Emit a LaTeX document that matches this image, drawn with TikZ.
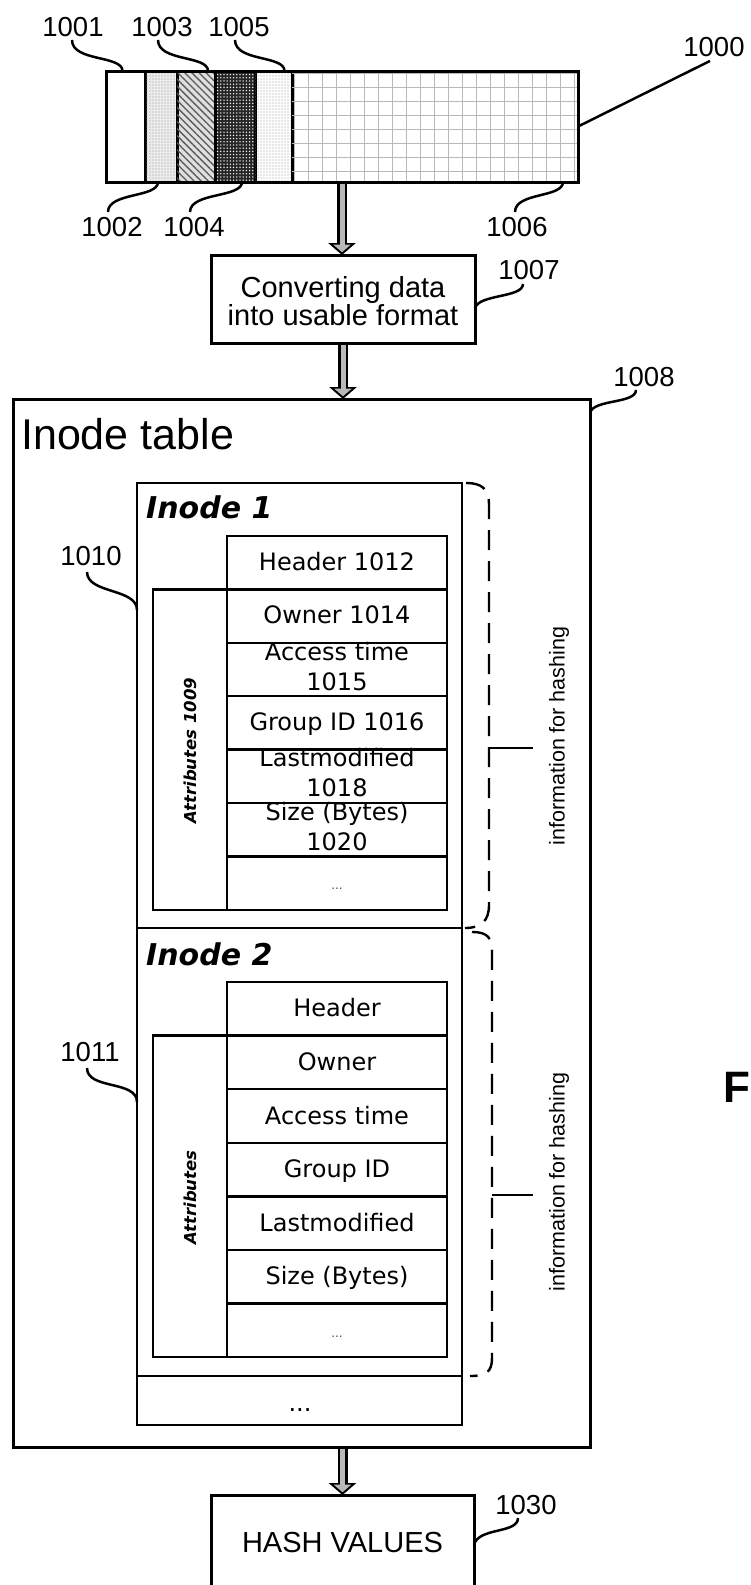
\documentclass[tikz,border=0pt]{standalone}
\usepackage{fontspec}
\setmainfont{Liberation Sans}
\newfontfamily\vfont{DejaVu Sans}
\usetikzlibrary{arrows.meta,patterns.meta,calc}
\newcommand{\pbox}[6]{\node[boxs,#6,minimum width=#4pt,minimum height=#5pt,anchor=north west] (#1) at (#2,#3) {};}
\begin{document}
\begin{tikzpicture}[x=1pt,y=-1pt,
  boxs/.style={draw, inner sep=0pt, outer sep=0pt},
  thickbox/.style={line width=3pt},
  medbox/.style={line width=2.2pt},
  cellbox/.style={line width=2.5pt},
  lbl/.style={inner sep=0pt, font=\fontsize{27.5}{27.5}\selectfont},
  leader/.style={line width=2.5pt},
  celltxt/.style={inner sep=0pt, anchor=base, font=\vfont\fontsize{24}{24}\selectfont},
  celldots/.style={inner sep=0pt, anchor=base, text=black!70, font=\vfont\fontsize{12}{12}\selectfont},
  inodetitle/.style={inner sep=0pt, anchor=base west, font=\vfont\bfseries\itshape\fontsize{30}{30}\selectfont},
  attrtxt/.style={inner sep=0pt, rotate=90, font=\vfont\bfseries\itshape\fontsize{16.5}{16.5}\selectfont},
  infotxt/.style={inner sep=0pt, rotate=90, font=\fontsize{21.5}{21.5}\selectfont},
  blkout/.style={line width=10pt, -{Triangle[width=27pt,length=12pt]}},
  blkin/.style={line width=5pt, draw=gray!55, -{Triangle[width=17pt,length=7.5pt]}, shorten >=2.8pt, shorten <=1.5pt},
  brace/.style={line width=2.4pt, dash pattern=on 20pt off 11pt},
]
\useasboundingbox (0,0) rectangle (750,1585);
\fill[white] (0,0) rectangle (750,1585);

% ---------- top record bar ----------
\pbox{s1}{106}{71}{39}{111}{thickbox, fill=white}
\pbox{s2}{145}{71}{32}{111}{thickbox, fill=gray!15, postaction={pattern={Dots[distance=3pt,radius=0.6pt]}, pattern color=gray!80}}
\pbox{s3}{177}{71}{38}{111}{thickbox, fill=gray!25, postaction={pattern={Lines[angle=-45,distance=5pt,line width=1.3pt]}, pattern color=black!65}}
\pbox{s4}{215}{71}{40}{111}{thickbox, fill=black!85, postaction={pattern={Dots[distance=3.2pt,radius=0.75pt]}, pattern color=white}}
\pbox{s5}{255}{71}{37}{111}{thickbox, fill=white, postaction={pattern={Dots[distance=3pt,radius=0.6pt]}, pattern color=gray!80}}
\pbox{s6}{292}{71}{286}{111}{thickbox, fill=white, postaction={pattern={Hatch[distance=14pt,line width=0.9pt]}, pattern color=gray!55}}
\pbox{bar}{106}{71}{472}{111}{thickbox}

\node[lbl] (l1000) at (714,47) {1000};
\node[lbl] (l1001) at (73,27) {1001};
\node[lbl] (l1003) at (162,27) {1003};
\node[lbl] (l1005) at (239,27) {1005};
\node[lbl] (l1002) at (112,227) {1002};
\node[lbl] (l1004) at (194,227) {1004};
\node[lbl] (l1006) at (517,227) {1006};

\draw[leader] (bar.east) -- ([xshift=-4pt,yshift=-4pt]l1000.south);
\draw[leader] ([xshift=-1pt,yshift=-3pt]l1001.south) .. controls +(0,22) and +(0,-16) .. ([xshift=-3pt]s1.north);
\draw[leader] ([xshift=-4pt,yshift=-3pt]l1003.south) .. controls +(0,22) and +(0,-16) .. ([xshift=12pt]s3.north);
\draw[leader] ([xshift=-4pt,yshift=-3pt]l1005.south) .. controls +(0,22) and +(0,-16) .. ([xshift=11pt]s5.north);
\draw[leader] ([xshift=-4pt,yshift=5pt]l1002.north) .. controls +(0,-20) and +(0,16) .. ([xshift=-3pt]s2.south);
\draw[leader] ([xshift=-4pt,yshift=5pt]l1004.north) .. controls +(0,-20) and +(0,16) .. ([xshift=7pt]s4.south);
\draw[leader] ([xshift=-2pt,yshift=5pt]l1006.north) .. controls +(0,-20) and +(0,16) .. ([xshift=-15pt]s6.south east);

% ---------- converting box ----------
\pbox{conv}{211}{255}{264}{88}{thickbox}
\node[inner sep=0pt, align=center, font=\fontsize{29}{28.7}\selectfont] (convtxt) at (343,301) {Converting data\\into usable format};
\node[lbl] (l1007) at (529,270) {1007};
\draw[leader] ([yshift=-9pt]conv.east) .. controls +(4,-14) and +(0,14) .. ([xshift=-6pt,yshift=-4pt]l1007.south);

% ---------- inode table ----------
\pbox{tbl}{13}{399}{577}{1048}{thickbox}
\node[inner sep=0pt, anchor=base west, font=\fontsize{43}{43}\selectfont] (tbltxt) at (21,449) {Inode table};
\node[lbl] (l1008) at (644,377) {1008};
\draw[leader] ([yshift=-14pt]tbl.north east) .. controls +(3,-14) and +(0,14) .. ([xshift=-8pt,yshift=-3pt]l1008.south);

\pbox{i1}{137}{483}{325}{445}{medbox}
\pbox{i2}{137}{928}{325}{448}{medbox}
\pbox{idots}{137}{1376}{325}{49}{medbox}
\node[inner sep=0pt, anchor=base, font=\vfont\fontsize{24}{24}\selectfont] (idotstxt) at (300,1411) {...};

\node[inodetitle] (i1t) at (146,518) {Inode 1};
\node[inodetitle] (i2t) at (146,965) {Inode 2};

% attributes columns
\pbox{a1}{153}{589.4}{74}{320.4}{cellbox}
\pbox{a2}{153}{1035.6}{74}{321.6}{cellbox}
\node[attrtxt] (a1t) at ([yshift=-1pt]a1.center) {Attributes 1009};
\node[attrtxt] (a2t) at ([yshift=-1pt]a2.center) {Attributes};

% cells
\foreach \k in {0,...,6} {
  \pbox{c1\k}{227}{536+53.4*\k}{220}{53.4}{cellbox}
}
\foreach \k in {0,...,6} {
  \pbox{c2\k}{227}{982+53.6*\k}{220}{53.6}{cellbox}
}
\node[celltxt] (t10) at ([yshift=-7.5pt]c10.center) {Header 1012};
\node[celltxt] (t11) at ([yshift=-7.5pt]c11.center) {Owner 1014};
\node[celltxt] (t12a) at ([yshift=9.5pt]c12.center) {Access time};
\node[celltxt] (t12b) at ([yshift=-20.5pt]c12.center) {1015};
\node[celltxt] (t13) at ([yshift=-7.5pt]c13.center) {Group ID 1016};
\node[celltxt] (t14a) at ([yshift=9.5pt]c14.center) {Lastmodified};
\node[celltxt] (t14b) at ([yshift=-20.5pt]c14.center) {1018};
\node[celltxt] (t15a) at ([yshift=9.5pt]c15.center) {Size (Bytes)};
\node[celltxt] (t15b) at ([yshift=-20.5pt]c15.center) {1020};
\node[celldots] (t16) at ([yshift=-6pt]c16.center) {...};

\node[celltxt] (t20) at ([yshift=-8pt]c20.center) {Header};
\node[celltxt] (t21) at ([yshift=-8pt]c21.center) {Owner};
\node[celltxt] (t22) at ([yshift=-8pt]c22.center) {Access time};
\node[celltxt] (t23) at ([yshift=-8pt]c23.center) {Group ID};
\node[celltxt] (t24) at ([yshift=-8pt]c24.center) {Lastmodified};
\node[celltxt] (t25) at ([yshift=-8pt]c25.center) {Size (Bytes)};
\node[celldots] (t26) at ([yshift=-7pt]c26.center) {...};

% labels 1010 / 1011
\node[lbl] (l1010) at (91,556) {1010};
\node[lbl] (l1011) at (90,1052) {1011};
\draw[leader] ([xshift=-4pt,yshift=-6pt]l1010.south) .. controls +(0,22) and +(0,-22) .. ([yshift=-127pt]i1.north west);
\draw[leader] ([xshift=-3pt,yshift=-6pt]l1011.south) .. controls +(0,22) and +(0,-22) .. ([yshift=-174pt]i2.north west);

% dashed braces
\coordinate (b1top) at (489,505);
\coordinate (b1bot) at (489,905);
\coordinate (b1tick) at (489,748);
\coordinate (b1end) at (533,748);
\draw[brace] ([xshift=4pt]i1.north east) .. controls +(16,0) and +(0,-16) .. (b1top) -- (b1bot) .. controls +(0,16) and +(16,0) .. ([xshift=3pt]i1.south east);
\draw[leader] (b1tick) -- (b1end);
\node[infotxt] (info1) at (559,736) {information for hashing};

\coordinate (b2top) at (492,952);
\coordinate (b2bot) at (492,1358);
\coordinate (b2tick) at (492,1195);
\coordinate (b2end) at (533,1195);
\draw[brace] ([xshift=10pt,yshift=-4pt]i2.north east) .. controls +(16,0) and +(0,-14) .. (b2top) -- (b2bot) .. controls +(0,14) and +(16,0) .. ([xshift=8pt]i2.south east);
\draw[leader] (b2tick) -- (b2end);
\node[infotxt] (info2) at (559,1182) {information for hashing};

% ---------- hash values ----------
\pbox{hash}{211}{1495}{263}{115}{thickbox}
\node[inner sep=0pt, font=\fontsize{29}{29}\selectfont] (hashtxt) at (342.5,1542) {HASH VALUES};
\node[lbl] (l1030) at (526,1505) {1030};
\draw[leader] ([yshift=-50pt]hash.north east) .. controls +(4,-18) and +(0,16) .. ([xshift=-8pt,yshift=-3pt]l1030.south);

% ---------- block arrows ----------
\draw[blkout] (bar.south) -- (bar.south |- conv.north);
\draw[blkin] (bar.south) -- (bar.south |- conv.north);
\draw[blkout] (conv.south) -- (conv.south |- tbl.north);
\draw[blkin] (conv.south) -- (conv.south |- tbl.north);
\draw[blkout] (tbl.south -| hash.north) -- (hash.north);
\draw[blkin] (tbl.south -| hash.north) -- (hash.north);

% figure letter
\node[inner sep=0pt, anchor=base west, font=\bfseries\fontsize{44}{44}\selectfont] (figF) at (723,1102) {F};
\end{tikzpicture}
\end{document}
